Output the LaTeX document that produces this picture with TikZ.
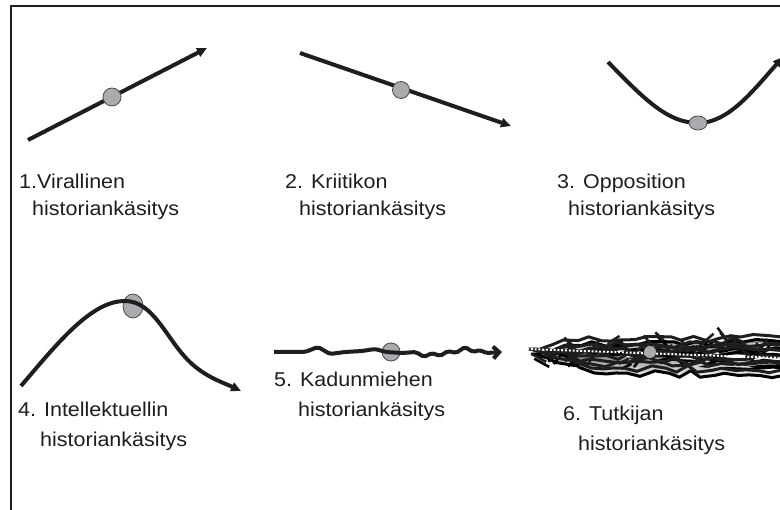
\documentclass[tikz,border=0pt]{standalone}
\usepackage{fontspec}
\setmainfont{Liberation Sans}
\usetikzlibrary{arrows.meta,decorations.pathmorphing,shapes.geometric}
\definecolor{ink}{HTML}{1E1E1E}
\definecolor{dotgray}{HTML}{A9ABAE}
\definecolor{shade}{HTML}{808080}
\newcommand\mytangle[1]{%
  \pgfmathsetseed{23}%
  \foreach \yy in {340,344,348,352,356,360,364,368}{%
    \pgfmathsetmacro\xs{528+rnd*30}%
    \draw[#1, line width=3pt, line join=round, decorate, decoration={random steps, segment length=12pt, amplitude=3.5pt}]
      (\xs,349) -- (\xs+35,\yy) -- (782,\yy+rand*3);
  }%
  \foreach \k in {1,...,26}{%
    \pgfmathsetmacro\sx{545+rnd*225}%
    \pgfmathsetmacro\sy{340+rnd*24}%
    \pgfmathsetmacro\ang{(rnd<0.5 ? -(25+rnd*30) : -(155-rnd*30))}%
    \pgfmathsetmacro\len{9+rnd*13}%
    \draw[#1, line width=2.6pt] (\sx,\sy) -- ++(\ang:\len);
  }%
}
\newcommand\wtxt[1]{\scalebox{1.075}[1]{#1}}
\begin{document}
\begin{tikzpicture}[x=1pt,y=-1pt,
  font=\fontsize{20}{24}\selectfont,
  lbl/.style={anchor=base west, inner sep=0pt, text=ink},
  curve/.style={draw=ink, line width=4pt},
  tip/.style={-{Triangle[length=10pt,width=9pt]}},
  dot/.style={fill=dotgray, draw=ink!80, line width=0.8pt}]
\useasboundingbox (0,0) rectangle (780,510);
\fill[white] (0,0) rectangle (780,510);
% frame
\draw[ink, line width=2pt] (10.5,512) -- (10.5,6) -- (782,6);

% panel 1
\coordinate (p1a) at (28,140);
\coordinate (p1b) at (207,48);
\draw[curve, tip] (p1a) -- (p1b);
\node[dot, circle, minimum size=18pt, inner sep=0pt] (d1) at (112,97) {};

% panel 2
\coordinate (p2a) at (300,53);
\coordinate (p2b) at (511,126);
\draw[curve, tip] (p2a) -- (p2b);
\node[dot, circle, minimum size=17pt, inner sep=0pt] (d2) at (401,90) {};

% panel 3
\coordinate (p3a) at (608,62);
\coordinate (p3m) at (698,123);
\coordinate (p3b) at (783,57);
\draw[curve, tip] (p3a) .. controls (645,100) and (668,123) .. (p3m)
   .. controls (728,123) and (752,92) .. (p3b);
\node[dot, ellipse, minimum width=18pt, minimum height=14pt, inner sep=0pt] (d3) at (p3m) {};

% panel 4
\coordinate (p4a) at (21,386);
\coordinate (p4m) at (125,301);
\coordinate (p4b) at (241,391);
\node[dot, ellipse, minimum width=20pt, minimum height=24pt, inner sep=0pt] (d4) at (133,306) {};
\draw[curve, tip] (p4a) .. controls (60,340) and (92,301) .. (p4m)
   .. controls (152,301) and (165,335) .. (185,357)
   .. controls (202,376) and (222,382) .. (p4b);

% panel 5
\coordinate (p5a) at (274,352);
\coordinate (p5b) at (502,352);
\node[dot, circle, minimum size=18pt, inner sep=0pt] (d5) at (391,352) {};
\draw[curve, line join=round, rounded corners=2pt, -{Straight Barb[length=6pt,width=12pt]}] (p5a) -- (305,352) -- (318,347) -- (330,354) -- (345,352)
  -- (362,351) -- (375,349) -- (386,352) -- (402,353) -- (416,352) -- (424,357)
  -- (432,353) -- (440,356) -- (448,351) -- (456,353) -- (465,347) -- (473,352)
  -- (480,350) -- (486,353) -- (p5b);

% panel 6
\begin{scope}[shift={(3,5)}]
  \mytangle{shade}
\end{scope}
\mytangle{ink}
\coordinate (p6a) at (527,349);
\coordinate (p6b) at (782,358);
\draw[white, line width=2pt, dash pattern=on 2pt off 1.8pt] (p6a) -- (p6b);
\node[fill=dotgray, circle, minimum size=12pt, inner sep=0pt] (d6) at (650,352) {};

% labels
\node[lbl] (t1a) at (19,189) {\wtxt{1.Virallinen}};
\node[lbl] (t1b) at (32,216) {\wtxt{historiankäsitys}};
\node[lbl] (t2a) at (285,189) {\wtxt{2. Kriitikon}};
\node[lbl] (t2b) at (299,216) {\wtxt{historiankäsitys}};
\node[lbl] (t3a) at (557,189) {\wtxt{3. Opposition}};
\node[lbl] (t3b) at (568,216) {\wtxt{historiankäsitys}};
\node[lbl] (t5a) at (274,387) {\wtxt{5. Kadunmiehen}};
\node[lbl] (t5b) at (298,417) {\wtxt{historiankäsitys}};
\node[lbl] (t4a) at (18,417) {\wtxt{4. Intellektuellin}};
\node[lbl] (t4b) at (40,447) {\wtxt{historiankäsitys}};
\node[lbl] (t6a) at (563,421) {\wtxt{6. Tutkijan}};
\node[lbl] (t6b) at (578,451) {\wtxt{historiankäsitys}};
\end{tikzpicture}
\end{document}
